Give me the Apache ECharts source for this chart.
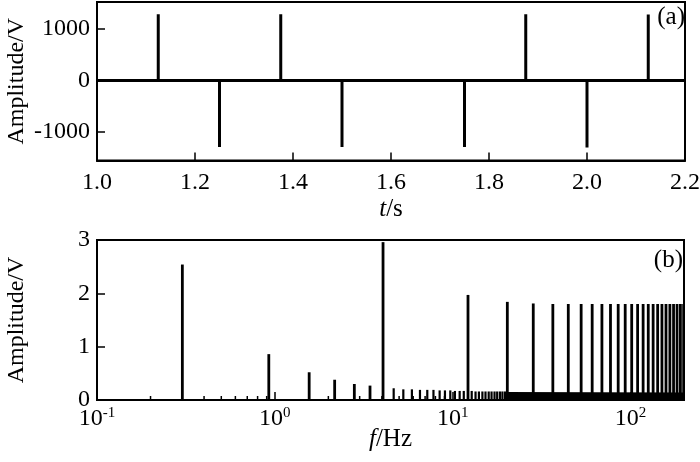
<!DOCTYPE html>
<html><head><meta charset="utf-8">
<script src="https://cdn.jsdelivr.net/npm/echarts@6/dist/echarts.min.js"></script>
<style>html,body{margin:0;padding:0;background:#fff}#c{width:700px;height:462px}</style>
</head><body><div id="c"></div>
<script>
// ---- panel (a): time-domain signal ----
const timeRange = [1.0, 2.2];
const ampTicksTop = [-1000, 0, 1000];
const posSpikeTimes = [1.125, 1.375, 1.875, 2.125];
const posSpikeAmps = [1285, 1285, 1285, 1280];
const negSpikeTimes = [1.25, 1.5, 1.75, 2.0];
const negSpikeAmps = [-1290, -1290, -1290, -1300];

// ---- panel (b): spectrum ----
const majorFreqs = [0.302, 0.925, 1.56, 2.17, 2.8, 3.43, 4.06, 12.2, 20.3, 28.4, 36.6, 44.7, 52.8, 60.9, 69.1, 77.2, 85.3, 93.4, 101.6, 109.7, 117.8, 125.9, 134.1, 142.2, 150.3, 158.4, 166.6, 174.7, 182.8, 190.9, 199.1];
const majorAmps = [2.54, 0.86, 0.52, 0.38, 0.30, 0.27, 2.96, 1.97, 1.84, 1.81, 1.80, 1.80, 1.80, 1.80, 1.80, 1.80, 1.80, 1.80, 1.80, 1.80, 1.80, 1.80, 1.80, 1.80, 1.80, 1.80, 1.80, 1.80, 1.80, 1.80, 1.80];
const minorFreqs = [4.66, 5.28, 5.9, 6.55, 7.2, 7.8, 8.45, 9.05, 9.7, 10.3, 10.95, 11.55, 12.8, 13.45, 14.05, 14.7, 15.3, 15.95, 16.55, 17.2, 17.8, 18.45, 19.05, 19.7];
const minorAmps = [0.22, 0.20, 0.20, 0.19, 0.19, 0.19, 0.18, 0.18, 0.18, 0.17, 0.17, 0.17, 0.17, 0.16, 0.16, 0.16, 0.16, 0.16, 0.16, 0.16, 0.16, 0.16, 0.16, 0.16];
const floorFreqs = [19.9, 200];
const floorAmps = [0.15, 0.14];
const freqRange = [0.1, 200];
const ampRangeBottom = [0, 3];
const logMinorTicks = [0.2, 0.3, 0.4, 0.5, 0.6, 0.7, 0.8, 0.9, 2, 3, 4, 5, 6, 7, 8, 9, 20, 30, 40, 50, 60, 70, 80, 90];

const FONT = '"Liberation Serif", "Times New Roman", serif';
const LBL = 24, TTL = 25, YTTL = 24;

// build signal line from spike lists
const spikes = [];
posSpikeTimes.forEach((t, i) => spikes.push([t, posSpikeAmps[i]]));
negSpikeTimes.forEach((t, i) => spikes.push([t, negSpikeAmps[i]]));
spikes.sort((a, b) => a[0] - b[0]);
const signal = [[timeRange[0], 0]];
spikes.forEach(s => { signal.push([s[0], 0], [s[0], s[1]], [s[0], 0]); });
signal.push([timeRange[1], 0]);

function pairs(xs, ys) { return xs.map((x, i) => [x, ys[i]]); }

function stemRenderer(width) {
  return function (params, api) {
    const p0 = api.coord([api.value(0), 0]);
    const p1 = api.coord([api.value(0), api.value(1)]);
    return { type: 'line', shape: { x1: p0[0], y1: p0[1], x2: p1[0], y2: p1[1] },
      style: { stroke: '#000', lineWidth: width } };
  };
}

const axisLineStyle = { show: true, onZero: false, lineStyle: { color: '#000', width: 2 } };
const tickStyle = { color: '#000', width: 1.5 };

const chart = echarts.init(document.getElementById('c'), null, { renderer: 'canvas' });
chart.setOption({
  animation: false,
  backgroundColor: '#fff',
  textStyle: { fontFamily: FONT, color: '#000' },
  grid: [
    { left: 97, top: 2, width: 588, height: 158.5, show: true, borderColor: '#000', borderWidth: 2, backgroundColor: 'transparent', containLabel: false, outerBoundsMode: 'none' },
    { left: 97, top: 240, width: 587, height: 160, show: true, borderColor: '#000', borderWidth: 2, backgroundColor: 'transparent', containLabel: false, outerBoundsMode: 'none' }
  ],
  xAxis: [
    { gridIndex: 0, type: 'value', min: timeRange[0], max: timeRange[1], interval: 0.2, position: 'bottom',
      axisLine: axisLineStyle, splitLine: { show: false },
      axisTick: { show: true, inside: true, length: 8, lineStyle: tickStyle },
      axisLabel: { fontFamily: FONT, fontSize: LBL, color: '#000', margin: 10, formatter: v => v.toFixed(1) },
      name: '{i|t}/s', nameLocation: 'middle', nameGap: 36, nameMoveOverlap: false,
      nameTextStyle: { fontFamily: FONT, fontSize: TTL, color: '#000', rich: { i: { fontFamily: FONT, fontSize: TTL, fontStyle: 'italic' } } } },
    { gridIndex: 1, type: 'log', logBase: 10, min: freqRange[0], max: freqRange[1], position: 'bottom',
      axisLine: axisLineStyle, splitLine: { show: false },
      axisTick: { show: true, inside: true, length: 8, lineStyle: tickStyle },
      axisLabel: { margin: 6, color: '#000',
        formatter: v => {
          const e = Math.round(Math.log10(v));
          if (Math.abs(Math.pow(10, e) - v) > 1e-9 * Math.max(1, v)) return '';
          return '{b|10}{s|' + e + '}';
        },
        rich: { b: { fontFamily: FONT, fontSize: LBL, color: '#000' },
                s: { fontFamily: FONT, fontSize: 15, color: '#000', padding: [0, 0, 11, 0] } } },
      name: '{i|f}/Hz', nameLocation: 'middle', nameGap: 27, nameMoveOverlap: false,
      nameTextStyle: { fontFamily: FONT, fontSize: TTL, color: '#000', rich: { i: { fontFamily: FONT, fontSize: TTL, fontStyle: 'italic' } } } }
  ],
  yAxis: [
    { gridIndex: 0, type: 'value', min: -1550, max: 1520,
      axisLine: axisLineStyle, splitLine: { show: false },
      axisTick: { inside: true, length: 8, customValues: ampTicksTop, lineStyle: tickStyle },
      axisLabel: { fontFamily: FONT, fontSize: LBL, color: '#000', margin: 7, customValues: ampTicksTop, formatter: v => String(v) },
      name: 'Amplitude/V', nameLocation: 'middle', nameGap: 68, nameMoveOverlap: false,
      nameTextStyle: { fontFamily: FONT, fontSize: YTTL, color: '#000' } },
    { gridIndex: 1, type: 'value', min: ampRangeBottom[0], max: ampRangeBottom[1], interval: 1,
      axisLine: axisLineStyle, splitLine: { show: false },
      axisTick: { inside: true, length: 8, lineStyle: tickStyle },
      axisLabel: { fontFamily: FONT, fontSize: LBL, color: '#000', margin: 7 },
      name: 'Amplitude/V', nameLocation: 'middle', nameGap: 68, nameMoveOverlap: false,
      nameTextStyle: { fontFamily: FONT, fontSize: YTTL, color: '#000' } }
  ],
  graphic: [
    { type: 'text', right: 15, top: 5, style: { text: '(a)', font: TTL + 'px ' + FONT, fill: '#000' } },
    { type: 'text', right: 17, top: 248, style: { text: '(b)', font: TTL + 'px ' + FONT, fill: '#000' } }
  ],
  series: [
    { type: 'line', xAxisIndex: 0, yAxisIndex: 0, data: signal, showSymbol: false, symbol: 'none',
      lineStyle: { color: '#000', width: 3 }, clip: true },
    { type: 'line', xAxisIndex: 1, yAxisIndex: 1, data: pairs(floorFreqs, floorAmps), symbol: 'none',
      lineStyle: { width: 0 }, areaStyle: { color: '#000', opacity: 1 }, clip: true },
    { type: 'custom', xAxisIndex: 1, yAxisIndex: 1, data: pairs(minorFreqs, minorAmps), renderItem: stemRenderer(2.2), clip: true },
    { type: 'custom', xAxisIndex: 1, yAxisIndex: 1, data: pairs(majorFreqs, majorAmps), renderItem: stemRenderer(2.8), clip: true },
    { type: 'custom', xAxisIndex: 1, yAxisIndex: 1, data: logMinorTicks.map(v => [v]), clip: true,
      renderItem: function (params, api) {
        const p = api.coord([api.value(0), 0]);
        return { type: 'line', shape: { x1: p[0], y1: p[1], x2: p[0], y2: p[1] - 4 }, style: { stroke: '#000', lineWidth: 1.5 } };
      } }
  ]
});
</script></body></html>
